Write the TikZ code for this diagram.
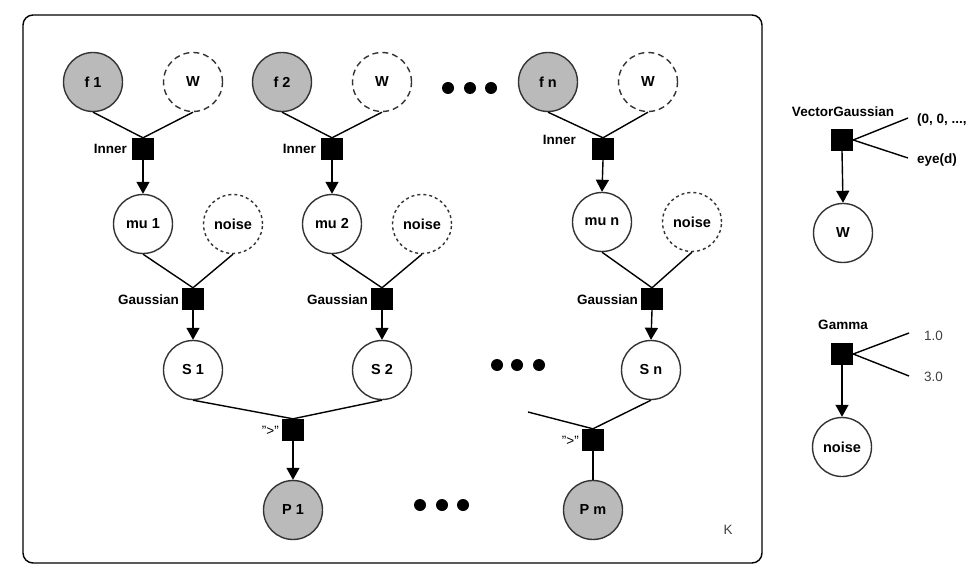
\documentclass[tikz,border=0pt]{standalone}
\usepackage{fontspec}
\setmainfont{Liberation Sans}
\usetikzlibrary{arrows.meta}
\begin{document}
\begin{tikzpicture}[x=1pt,y=-1pt,
  font=\fontsize{13.5}{16}\selectfont\bfseries,
  var/.style={circle,draw=black!80,line width=1.4pt,minimum size=59pt,inner sep=0pt,fill=white,
    font=\fontsize{14.5}{17}\selectfont\bfseries},
  obs/.style={var,fill=black!27},
  wvar/.style={var,dash pattern=on 6pt off 4pt},
  nvar/.style={var,dash pattern=on 3pt off 3pt},
  fac/.style={rectangle,fill=black,minimum size=22pt,inner sep=0pt},
  flab/.style={anchor=east,inner sep=0pt},
  edge/.style={line width=1.4pt},
  arr/.style={edge,-{Triangle[width=13pt,length=12pt]}},
  dot/.style={circle,fill=black,minimum size=12pt,inner sep=0pt},
  plain/.style={font=\fontsize{13.5}{16}\selectfont,text=black!75,inner sep=0pt}]
\useasboundingbox (0,0) rectangle (971,585);
\draw[line width=1.4pt,rounded corners=10pt] (23,15) rectangle (762,563);

% Inner products
\node[obs]  (f1) at (93,82) {f 1};
\node[wvar] (w1) at (193,82) {W};
\node[fac]  (i1) at (143,149) {};
\node[flab] (li1) at (127,149) {Inner};
\node[obs]  (f2) at (282,82) {f 2};
\node[wvar] (w2) at (382,82) {W};
\node[fac]  (i2) at (332,149) {};
\node[flab] (li2) at (316,149) {Inner};
\node[obs]  (fn) at (548,82) {f n};
\node[wvar] (wn) at (648,82) {W};
\node[fac]  (in) at (603,149) {};
\node[flab] (lin) at (576,140) {Inner};
\node[dot] (d1) at (448,88) {};
\node[dot] (d2) at (470,88) {};
\node[dot] (d3) at (491,88) {};

% Means and noise
\node[var]  (m1) at (143,224) {mu 1};
\node[nvar] (n1) at (233,224) {noise};
\node[fac]  (g1) at (193,299) {};
\node[flab] (lg1) at (179,300) {Gaussian};
\node[var]  (m2) at (332,224) {mu 2};
\node[nvar] (n2) at (422,224) {noise};
\node[fac]  (g2) at (382,299) {};
\node[flab] (lg2) at (368,300) {Gaussian};
\node[var]  (mn) at (602,222) {mu n};
\node[nvar] (nn) at (692,222) {noise};
\node[fac]  (gn) at (652,299) {};
\node[flab] (lgn) at (638,300) {Gaussian};

% Scores
\node[var] (s1) at (193,370) {S 1};
\node[var] (s2) at (382,370) {S 2};
\node[var] (sn) at (651,370) {S n};
\node[dot] (d4) at (497,365) {};
\node[dot] (d5) at (517,365) {};
\node[dot] (d6) at (539,365) {};

% Comparisons
\node[fac]  (c1) at (293,430) {};
\node[flab,font=\fontsize{13.5}{16}\selectfont] (lc1) at (279,431) {">"};
\node[obs]  (p1) at (293,510) {P 1};
\node[fac]  (cm) at (593,440) {};
\node[flab,font=\fontsize{13.5}{16}\selectfont] (lcm) at (579,441) {">"};
\node[obs]  (pm) at (593,510) {P m};
\coordinate (free) at (528,412);
\node[dot] (d7) at (420,505) {};
\node[dot] (d8) at (442,505) {};
\node[dot] (d9) at (463,505) {};
\node[plain] (k) at (728,530) {K};

% Priors
\node[fac] (vg) at (842,140) {};
\node[inner sep=0pt] (lvg) at (843,112) {VectorGaussian};
\coordinate (vga) at (908,118);
\coordinate (vgb) at (908,158);
\node[inner sep=0pt,anchor=west] (tva) at (917,120) {(0, 0, ...,};
\node[inner sep=0pt,anchor=west] (tvb) at (917,160) {eye(d)};
\node[var] (wp) at (843,233) {W};

\node[fac] (ga) at (842,354) {};
\node[inner sep=0pt] (lga) at (843,325) {Gamma};
\coordinate (gaa) at (909,333);
\coordinate (gab) at (909,376);
\node[plain,anchor=west] (t1) at (924,336) {1.0};
\node[plain,anchor=west] (t3) at (924,377) {3.0};
\node[var] (np) at (842,447) {noise};

% Connectors
\foreach \c in {1,2,n}{
  \draw[edge] (f\c.south) -- (i\c.north);
  \draw[edge] (w\c.south) -- (i\c.north);
  \draw[arr] (i\c.south) -- (m\c.north);
  \draw[edge] (m\c.south) -- (g\c.north);
  \draw[edge] (n\c.south) -- (g\c.north);
  \draw[arr] (g\c.south) -- (s\c.north);
}
\draw[edge] (s1.south) -- (c1.north);
\draw[edge] (s2.south) -- (c1.north);
\draw[arr] (c1.south) -- (p1.north);
\draw[edge] (free) -- (cm.north);
\draw[edge] (sn.south) -- (cm.north);
\draw[edge] (cm.south) -- (pm.north);

\draw[edge] (vg.east) -- (vga);
\draw[edge] (vg.east) -- (vgb);
\draw[arr] (vg.south) -- (wp.north);
\draw[edge] (ga.east) -- (gaa);
\draw[edge] (ga.east) -- (gab);
\draw[arr] (ga.south) -- (np.north);
\end{tikzpicture}
\end{document}
